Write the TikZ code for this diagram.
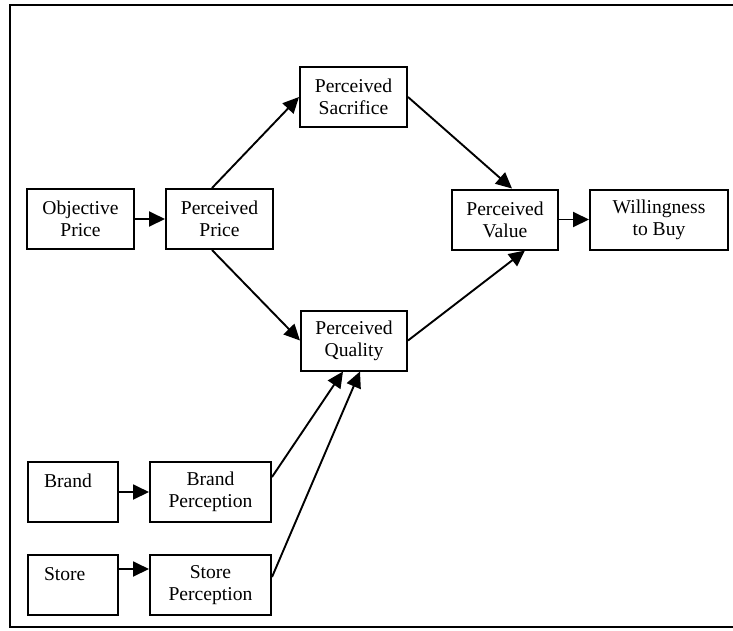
\documentclass[tikz,border=0pt]{standalone}
\usepackage{fontspec}
\setmainfont{Liberation Serif}
\usetikzlibrary{arrows.meta,positioning,calc}
\tikzstyle{block}=[draw,line width=2pt,minimum height=60pt,minimum width=#1,align=center,inner sep=3pt]
\tikzstyle{lblock}=[draw,line width=2pt,minimum height=60pt,text width=58pt,inner xsep=16pt,align=left]
\tikzset{
	link/.style={line width=1.9pt,-{Triangle[length=16pt,width=15pt]}},
}
\newcommand{\myedge}[2]{\draw[link] (#1) -- (#2);}

\begin{document}
\begin{tikzpicture}[x=1pt,y=-1pt,font=\fontsize{19.6pt}{22pt}\selectfont]

    \useasboundingbox (0,0) rectangle (733,630);
    \clip (0,0) rectangle (733,630);
    \draw[line width=1.8pt] (10,5) rectangle (745,627);

    % price path
    \node[block=107pt] (op) at (80.5,219) {Objective\\Price};
    \node[block=107pt,right=30pt of op] (pp) {Perceived\\Price};
    \node[block=107pt] (ps) at (353.5,97) {Perceived\\Sacrifice};
    \node[block=106pt] (pq) at (354,340.5) {Perceived\\Quality};
    \node[block=106pt] (pv) at (505,219.5) {Perceived\\Value};
    \node[block=138pt,right=30pt of pv] (wb) {Willingness\\to Buy};

    % cues
    \node[lblock] (br) at (73,492) {Brand\\\mbox{}};
    \node[block=121pt,right=30pt of br] (bp) {Brand\\Perception};
    \node[lblock,below=31pt of br] (st) {Store\\\mbox{}};
    \node[block=121pt,right=30pt of st] (sp) {Store\\Perception};

    \myedge{op}{pp}
    \myedge{$(pp.north)+(-7.5,0)$}{ps.west}
    \myedge{$(pp.south)+(-7.5,0)$}{pq.west}
    \myedge{ps.east}{$(pv.north)+(7,0)$}
    \myedge{pq.east}{$(pv.south)+(20,0)$}
    \myedge{pv}{wb}
    \myedge{br}{bp}
    \myedge{$(st.east)+(0,-16)$}{$(sp.west)+(0,-16)$}
    \myedge{$(bp.east)+(0,-15)$}{$(pq.south)+(-11,0)$}
    \myedge{$(sp.east)+(0,-8)$}{$(pq.south)+(6,0)$}
\end{tikzpicture}
\end{document}
